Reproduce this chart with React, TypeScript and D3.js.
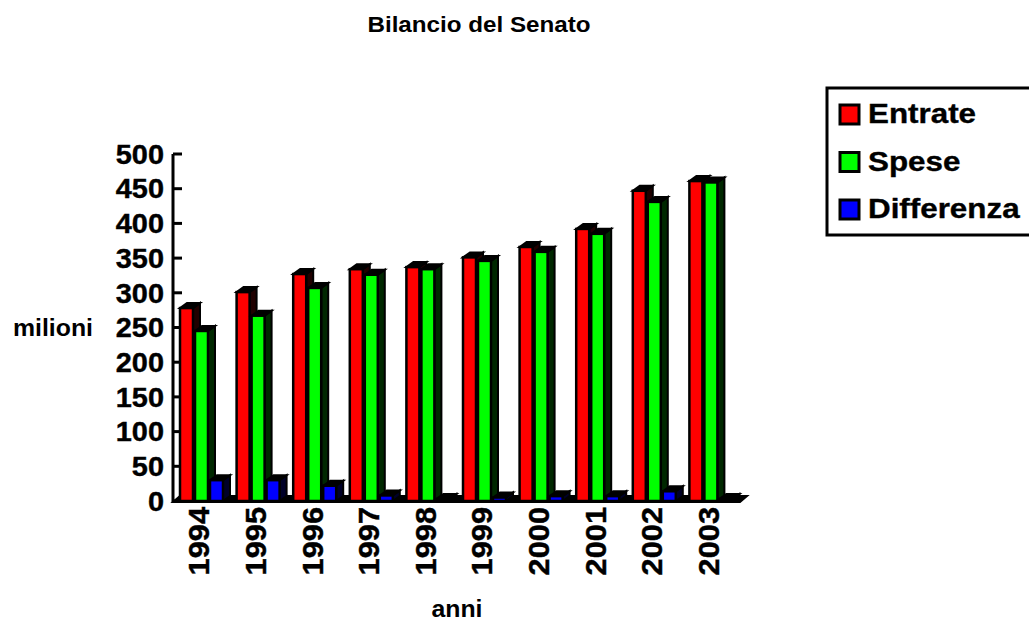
import * as d3 from "d3";

const years = ["1994", "1995", "1996", "1997", "1998", "1999", "2000", "2001", "2002", "2003"];
const entrate = [278, 301, 327, 334, 337, 351, 366, 392, 447, 461];
const spese = [245, 267, 307, 326, 334, 346, 359, 385, 431, 459];
const differenza = [30, 30, 22, 8, 3, 5, 7, 7, 14, 3];
const yTicks = [0, 50, 100, 150, 200, 250, 300, 350, 400, 450, 500];

const series = [
  { name: "Entrate", values: entrate, color: "#ff0000", side: "#200000" },
  { name: "Spese", values: spese, color: "#00ff00", side: "#002800" },
  { name: "Differenza", values: differenza, color: "#0000ff", side: "#000028" },
];

const font = "'Liberation Sans', Arial, sans-serif";

const App = () => {
  const width = 1029;
  const height = 622;
  const axisX = 173;

  const y = d3.scaleLinear().domain([0, 500]).range([501, 154]);
  const x0 = d3.scaleBand().domain(years).range([176, 742]);
  const x1 = d3
    .scaleBand()
    .domain(series.map((s) => s.name))
    .range([4, 49]);

  const barW = x1.bandwidth() - 2;
  const dx = 7; // 3d depth
  const dy = 5;
  const y0 = y(0);

  return (
    <svg
      width={width}
      height={height}
      style={{ position: "absolute", left: 0, top: 0, background: "#fff" }}
      fontFamily={font}
      fontWeight="bold"
    >
      {/* title */}
      <text transform="translate(479,32) scale(1.1,1)" textAnchor="middle" fontSize={22}>
        Bilancio del Senato
      </text>

      {/* axis titles */}
      <text transform="translate(13,336) scale(1.08,1)" fontSize={23}>
        milioni
      </text>
      <text transform="translate(457,617) scale(1.08,1)" textAnchor="middle" fontSize={23}>
        anni
      </text>

      {/* y axis */}
      <line x1={axisX} x2={axisX} y1={y(500)} y2={y0 + 1} stroke="#000" strokeWidth={3} />
      {yTicks.map((t) => (
        <g key={t}>
          <line x1={axisX} x2={axisX + 9} y1={y(t)} y2={y(t)} stroke="#000" strokeWidth={3} />
          <text
            transform={`translate(164,${y(t)}) scale(1.07,1)`}
            textAnchor="end"
            dy="0.36em"
            fontSize={27}
            stroke="#000"
            strokeWidth={0.4}
          >
            {t}
          </text>
        </g>
      ))}

      {/* floor */}
      <polygon
        points={`${axisX},${y0 + 1} ${x0.range()[1] - 2},${y0 + 1} ${x0.range()[1] + dx - 2},${y0 - dy} ${axisX + dx},${y0 - dy}`}
        fill="#000"
        stroke="#000"
        strokeWidth={2}
      />

      {/* bars */}
      {years.map((yr, i) => (
        <g key={yr} transform={`translate(${x0(yr)},0)`}>
          {series.map((s) => {
            const bx = x1(s.name)!;
            const by = y(s.values[i]);
            return (
              <g key={s.name}>
                <polygon
                  points={`${bx + barW},${by} ${bx + barW + dx},${by - dy} ${bx + barW + dx},${y0 - dy} ${bx + barW},${y0}`}
                  fill={s.side}
                  stroke="#000"
                  strokeWidth={2}
                />
                <polygon
                  points={`${bx},${by} ${bx + dx},${by - dy} ${bx + barW + dx},${by - dy} ${bx + barW},${by}`}
                  fill="#000"
                  stroke="#000"
                  strokeWidth={2}
                />
                <rect
                  x={bx}
                  y={by}
                  width={barW}
                  height={y0 - by}
                  fill={s.color}
                  stroke="#000"
                  strokeWidth={2.5}
                />
              </g>
            );
          })}
        </g>
      ))}

      {/* x labels */}
      {years.map((yr) => (
        <text
          key={yr}
          transform={`translate(${x0(yr)! + 23},507) rotate(-90) scale(1.06,1)`}
          textAnchor="end"
          dy="0.36em"
          fontSize={29}
          stroke="#000"
          strokeWidth={0.4}
        >
          {yr}
        </text>
      ))}

      {/* legend */}
      <rect x={827} y={88} width={215} height={147} fill="#fff" stroke="#000" strokeWidth={3} />
      {series.map((s, i) => (
        <g key={s.name} transform={`translate(840,${105 + i * 47.5})`}>
          <rect x={0} y={0} width={19} height={19} fill={s.color} stroke="#000" strokeWidth={3} />
          <text transform="translate(28,18) scale(1.12,1)" fontSize={28} stroke="#000" strokeWidth={0.4}>
            {s.name}
          </text>
        </g>
      ))}
    </svg>
  );
};

export default App;
